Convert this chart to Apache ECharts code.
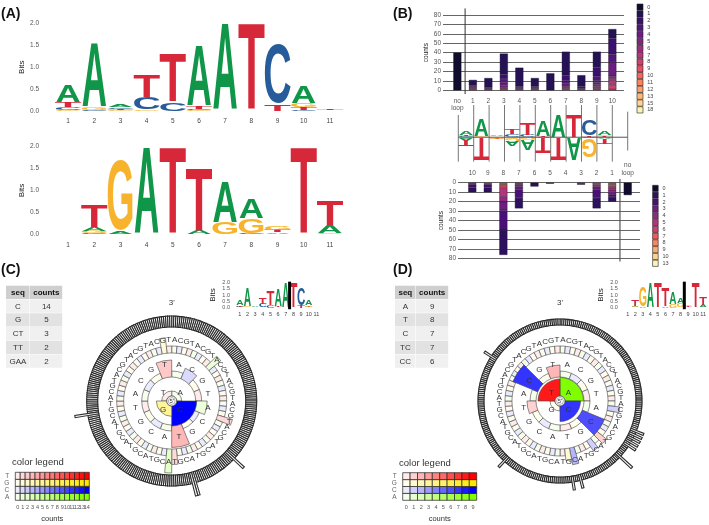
<!DOCTYPE html>
<html><head><meta charset="utf-8">
<style>html,body{margin:0;padding:0;background:#fff}#c{width:709px;height:525px}</style>
<script src="https://cdn.jsdelivr.net/npm/echarts@6/dist/echarts.min.js"></script>
</head><body><div id="c"></div>
<script>
// ---------- data ----------
const logoPositions = ['1','2','3','4','5','6','7','8','9','10','11'];
const logoTop = [
 [['G',.03],['C',.05],['T',.12],['A',.4]],
 [['T',.01],['C',.02],['G',.06],['A',1.5]],
 [['G',.02],['T',.03],['C',.03],['A',.05]],
 [['A',.01],['G',.02],['C',.27],['T',.5]],
 [['C',.2],['T',1.12]],
 [['G',.02],['C',.03],['T',.05],['A',1.4]],
 [['A',2.0]],
 [['T',2.0]],
 [['T',.15],['C',1.42]],
 [['C',.03],['T',.06],['G',.08],['A',.4]],
 [['G',.01],['C',.01],['A',.01],['T',.02]]
];
const logoBottom = [
 [],
 [['C',.02],['G',.05],['A',.08],['T',.5]],
 [['A',.06],['G',1.67]],
 [['A',2.0]],
 [['T',2.0]],
 [['A',.08],['T',1.45]],
 [['G',.27],['A',.95]],
 [['C',.02],['G',.35],['A',.45]],
 [['A',.04],['T',.06],['G',.1]],
 [['T',2.0]],
 [['C',.01],['G',.02],['A',.18],['T',.57]]
];

const topCats = ['no\nloop','1','2','3','4','5','6','7','8','9','10'];
const topLevels = ['0','1','2','3','4','5','6','7','8','9','10','11','12','13','15','18'];
const topStacks = [
 [40],
 [0,6,0,1,0,1,1,1,0,1],
 [0,10,0,1,0,1,0,1],
 [0,22,5,4,3,2,1,0,1,1],
 [0,20,0,1,1,0,1,1],
 [0,9,0,1,0,1,0,1,0,1],
 [0,18],
 [0,25,6,3,3,0,1,1,0,1,1],
 [0,12,0,2,0,1,1],
 [0,17,9,5,2,2,2,2,1,1],
 [0,10,17,8,15,2,2,5,5,1]
];
const topColors = ['#0f0c2e','#251255','#3b0f70','#541480','#6c1d81','#842681','#9d2f7f','#b73779','#d0416f','#e55064','#f4695c','#fa8460','#fd9f6c','#feb97a','#fed395','#fcf3b0'];

const lowCats = ['10','9','8','7','6','5','4','3','2','1','no\nloop'];
const lowLevels = ['0','1','2','3','4','5','6','7','8','9','10','13'];
const lowStacks = [
 [0,5,3,1,0,1],
 [0,5,3,0,1,0,0,0,1],
 [0,26,21,9,5,10,0,2,1,1,1],
 [0,11,9,3,2,1,1],
 [0,4],
 [0,1],
 [],
 [0,1,0,0,1],
 [0,11,9,3,0,2,2],
 [0,5,3,3,2,2,1,2,1,1],
 [13]
];
const lowColors = ['#0f0c2e','#2c115f','#4a1079','#6e1d81','#8f2a80','#b1357a','#cf4070','#ee5b5e','#fb8560','#feaa6f','#fdd18f','#fcf4b6'];

// connector lines of the mid logo: [x, top, bottom] in axis units
const connectors = [[0,2.0,-2.2],[1,2.9,-2.2],[2,2.9,-2.2],[3,2.9,-2.2],[4,2.9,-2.2],[5,2.9,-2.2],[6,2.9,-2.2],[7,2.9,-2.2],[8,2.9,-2.2],[9,2.9,-2.2],[10,2.9,-2.2],[11,2.3,-1.2]];

const baseLetters = ['A','C','G','T'];
// panel C
const seqC = ['C','G','CT','TT','GAA'];
const countC = [14,5,3,2,2];
const ringC1 = [0,14,5,0];
const ringC2 = [0,1,0,0, 1,0,0,3, 0,0,0,0, 0,0,0,2];
const ringC3 = [[8,1],[19,1],[31,1],[32,2],[62,1]];
const ringC4 = [[94,1],[116,1],[117,1],[185,1]];
const legendCountsC = ['0','1','2','3','4','5','6','7','8','9','10','11','12','13','14'];
// panel D
const seqD = ['A','T','C','TC','CC'];
const countD = [9,8,7,7,6];
const ringD1 = [9,7,0,8];
const ringD2 = [0,0,0,0, 0,6,0,0, 0,0,0,1, 0,7,0,2];
const ringD3 = [[17,1],[23,1],[25,1],[29,2],[30,1]];
const ringD4 = [[79,1],[81,1],[83,1],[85,1],[87,1],[94,2],[117,1],[121,1],[158,1],[215,1]];
const legendCountsD = ['0','1','2','3','4','5','6','7','8','9'];
const legendRows = ['A','C','G','T'];
const headers = ['seq','counts'];

// ---------- helpers ----------
const logoColor = {A:'#109648',C:'#255c99',G:'#f7b32b',T:'#d62839'};
const inkW = {A:.72,C:.64,G:.69,T:.57}, capH = {A:.716,C:.745,G:.745,T:.716};
const pure = {A:[128,255,0],C:[0,0,255],G:[255,230,0],T:[255,0,0]};
function tint(l,f){const p=pure[l],t=.08+.92*f;return 'rgb('+p.map(v=>Math.round(255+(v-255)*t)).join(',')+')';}

const grids=[],xAxes=[],yAxes=[],series=[];
const TXT='"Liberation Sans"';
const GLYPH_SHIFT=6.9; // font units between the reported middle and the middle of the capitals
function grid(left,top,w,h,x,y){
  const g=grids.length; grids.push({left,top,width:w,height:h,containLabel:false});
  xAxes.push(Object.assign({gridIndex:g},x)); yAxes.push(Object.assign({gridIndex:g},y)); return g;
}
const hiddenVal=(min,max)=>({type:'value',min,max,show:false,splitLine:{show:false}});
function logoRender(hfill){
  return function(params,api){
    const x=api.value(0),y0=api.value(1),y1=api.value(2),l=baseLetters[api.value(3)],flip=api.value(4);
    const a=api.coord([x,y0]),b=api.coord([x,y1]);
    const w=api.size([1,0])[0]*hfill,h=Math.abs(b[1]-a[1]);
    const sy=h/(capH[l]*100),sx=w/(inkW[l]*100);
    const cy=(a[1]+b[1])/2+(flip?-1:1)*GLYPH_SHIFT*sy;
    return {type:'text',x:a[0],y:cy,scaleX:sx,scaleY:sy,rotation:flip?Math.PI:0,silent:true,
      style:{text:l,font:'bold 100px '+TXT,fill:logoColor[l],align:'center',verticalAlign:'middle',textAlign:'center',textVerticalAlign:'middle'}};
  };
}
function logoItems(logo,xf,sign,flip){
  const out=[];
  logo.forEach((st,i)=>{let y=0;st.forEach(([l,v])=>{out.push([xf(i),y*sign,(y+v)*sign,baseLetters.indexOf(l),flip]);y+=v;});});
  return out;
}
function logo(logoData,left,top,w,h,fs,xMargin,yMargin,nameGap,nameFs){
  const g=grid(left,top,w,h,
   {type:'category',data:logoPositions,axisLine:{show:false},axisTick:{show:false},
    axisLabel:{interval:0,fontSize:fs,color:'#444',margin:xMargin,fontFamily:TXT}},
   {type:'value',min:0,max:2,interval:.5,splitLine:{show:false},axisLine:{show:false},axisTick:{show:false},
    axisLabel:{fontSize:fs,color:'#555',margin:yMargin,fontFamily:TXT,formatter:v=>v.toFixed(1)},
    name:'Bits',nameLocation:'middle',nameGap:nameGap,nameTextStyle:{fontSize:nameFs,color:'#222',fontFamily:TXT}});
  series.push({type:'custom',xAxisIndex:g,yAxisIndex:g,renderItem:logoRender(.96),data:logoItems(logoData,i=>i,1,0),animation:false,silent:true});
  return g;
}
function stackedBars(cats,stacks,colors,g,stackName){
  for(let k=colors.length-1;k>=0;k--){
    series.push({type:'bar',stack:stackName,xAxisIndex:g,yAxisIndex:g,barWidth:8,silent:true,
      itemStyle:{color:colors[k],borderColor:'#15101f',borderWidth:.4},
      data:stacks.map(s=>s[k]?s[k]:'-'),animation:false});
  }
}
function swatchLegend(labels,colors,left,top,w,h){
  const g=grid(left,top,w,h,hiddenVal(0,1),
   {type:'category',inverse:true,position:'right',data:labels,axisLine:{show:false},axisTick:{show:false},
    axisLabel:{interval:0,fontSize:5.5,color:'#444',margin:4,fontFamily:TXT}});
  series.push({type:'bar',xAxisIndex:g,yAxisIndex:g,barWidth:'100%',silent:true,animation:false,
    data:colors.map(c=>({value:1,itemStyle:{color:c,borderColor:'#222',borderWidth:.6}}))});
}
function table(left,top,w,h,split,seq,cnt){
  const rows=[headers[0]].concat(seq);
  const g=grid(left,top,w,h,hiddenVal(0,1),{type:'category',inverse:true,show:false,data:rows});
  const data=[];
  rows.forEach((_,r)=>{data.push([0,r,r===0?headers[0]:seq[r-1]]);data.push([1,r,r===0?headers[1]:cnt[r-1]]);});
  series.push({type:'custom',xAxisIndex:g,yAxisIndex:g,animation:false,silent:true,
    encode:{x:0,y:1},data:data.map(d=>[d[0],d[1]]),
    renderItem(p,api){
      const c=api.value(0),r=api.value(1),t=data[p.dataIndex][2];
      const h0=api.size([0,1])[1],L=api.coord([0,r]),x0=L[0],W=w;
      const cx0=x0+(c?split*W:0),cw=(c?(1-split):split)*W;
      const fill=r===0?'#cfcfcf':(r%2?'#f0f0f0':'#e2e2e2');
      return {type:'group',children:[
        {type:'rect',shape:{x:cx0,y:L[1]-h0/2,width:cw-.5,height:h0-.5},style:{fill}},
        {type:'text',x:cx0+cw/2,y:L[1],style:{text:String(t),font:(r===0?'bold ':'')+'8px '+TXT,fill:r===0?'#111':'#333',align:'center',verticalAlign:'middle',textAlign:'center',textVerticalAlign:'middle'}}]};
    }});
}
function colorLegend(labels,left,top,w,h){
  const g=grid(left,top,w,h,
    {type:'category',data:labels,axisLine:{show:false},axisTick:{show:false},
     axisLabel:{interval:0,fontSize:5.5,color:'#555',margin:4,fontFamily:TXT},
     name:'counts',nameLocation:'middle',nameGap:15,nameTextStyle:{fontSize:7.5,color:'#333',fontFamily:TXT}},
    {type:'category',data:legendRows,axisLine:{show:false},axisTick:{show:false},
     axisLabel:{interval:0,fontSize:6.5,color:'#666',margin:6,fontFamily:TXT}});
  const data=[];
  labels.forEach((_,c)=>legendRows.forEach((_,r)=>data.push([c,r])));
  series.push({type:'custom',xAxisIndex:g,yAxisIndex:g,animation:false,silent:true,data,
    renderItem(p,api){
      const c=api.value(0),r=api.value(1),q=api.coord([c,r]),s=api.size([1,1]);
      return {type:'rect',shape:{x:q[0]-s[0]/2,y:q[1]-s[1]/2,width:s[0],height:s[1]},
        style:{fill:tint(legendRows[r],c/(labels.length-1)),stroke:'#222',lineWidth:.7}};
    }});
}
function ringSeries(pi,counts,ringOpts){
  const n=counts.length,step=360/n,data=counts.map((c,i)=>[c,i]);
  const order=data.slice().sort((a,b)=>(a[0]?1:0)-(b[0]?1:0));
  series.push({type:'custom',coordinateSystem:'polar',polarIndex:pi,animation:false,silent:true,data:order,
    renderItem(p,api){
      const c=api.value(0),i=api.value(1),o=api.coord([0,0]);
      const rad=v=>o[1]-api.coord([v,0])[1];
      const a0=(i*step-90)*Math.PI/180,a1=((i+1)*step-90)*Math.PI/180;
      const l=baseLetters[i%4];
      return {type:'sector',shape:{cx:o[0],cy:o[1],r0:rad(ringOpts.r0),r:rad(ringOpts.out(c)),startAngle:a0,endAngle:a1,clockwise:true},
        style:{fill:ringOpts.fill?ringOpts.fill:tint(l,c/ringOpts.max),stroke:ringOpts.stroke||'#444',lineWidth:ringOpts.lw||.6}};
    }});
}
function dense(n,sparse){const a=new Array(n).fill(0);sparse.forEach(([i,c])=>a[i]=c);return a;}
function circle(pi,c1,c2,c3,c4,max,opt){
  ringSeries(pi,dense(256,c4),{r0:opt.r4[0],out:c=>opt.r4[1]+opt.k4*c,max,lw:1.05,stroke:'#2a2a2a',fill:'#f4f4f4'});
  ringSeries(pi,dense(64,c3),{r0:48,out:c=>55+opt.k3*c,max});
  ringSeries(pi,c2,{r0:24,out:c=>30+opt.k2*c,max});
  ringSeries(pi,c1,{r0:5,out:c=>10+opt.k1*c,max});
  const labels=[];
  c1.forEach((_,i)=>labels.push([12,(i+.5)*90,baseLetters[i]]));
  c2.forEach((_,i)=>labels.push([37,(i+.5)*22.5,baseLetters[i%4]]));
  for(let i=0;i<64;i++)labels.push([61,(i+.5)*5.625,baseLetters[i%4]]);
  labels.push([98,0,"3'"]);labels.push([0,0,"5'"]);
  series.push({type:'custom',coordinateSystem:'polar',polarIndex:pi,animation:false,silent:true,
    data:labels.map(d=>[d[0],d[1]]),
    renderItem(p,api){
      const r=api.value(0),a=api.value(1),q=api.coord([r,a]),t=labels[p.dataIndex][2];
      const txt={type:'text',x:q[0],y:q[1],style:{text:t,font:(r===0?'6':'8')+'px '+TXT,fill:'#333',align:'center',verticalAlign:'middle',textAlign:'center',textVerticalAlign:'middle'}};
      if(r===0){
        return {type:'group',children:[
          {type:'circle',shape:{cx:q[0],cy:q[1],r:5},style:{fill:'#fff',stroke:'#444',lineWidth:.7}},
          {type:'circle',shape:{cx:q[0],cy:q[1],r:3.4},style:{fill:'#fff',stroke:'#666',lineWidth:.5}},txt]};
      }
      return txt;
    }});
}

// ---------- panel A ----------
logo(logoTop,55,23.5,288,87.5,6.5,7,16,28,8);
logo(logoBottom,55,146.7,288,87.6,6.5,7,16,28,8);

// ---------- panel B top ----------
const gTopLines=grid(443,15,181,75.3,hiddenVal(0,1),
  {type:'value',min:0,max:80,interval:10,axisLine:{show:false},axisTick:{show:false},
   splitLine:{show:true,lineStyle:{color:'#666',width:1}},
   axisLabel:{fontSize:6.5,color:'#555',margin:2,fontFamily:TXT},
   name:'counts',nameLocation:'middle',nameGap:13,nameTextStyle:{fontSize:6.5,color:'#222',fontFamily:TXT}});
const gTop=grid(449.6,15,170.5,75.3,
  {type:'category',data:topCats,axisLine:{show:false},axisTick:{show:false},
   axisLabel:{interval:0,fontSize:6.5,lineHeight:7.5,color:'#555',margin:7,verticalAlign:'top',fontFamily:TXT}},
  {type:'value',min:0,max:80,show:false,splitLine:{show:false}});
stackedBars(topCats,topStacks,topColors,gTop,'top');
series.push({type:'custom',xAxisIndex:gTop,yAxisIndex:gTop,animation:false,silent:true,data:[[0,-4,87]],
  renderItem(p,api){const a=api.coord([api.value(0),api.value(1)]),b=api.coord([api.value(0),api.value(2)]),s=api.size([1,0])[0]/2;
    return {type:'line',shape:{x1:a[0]+s,y1:a[1],x2:a[0]+s,y2:b[1]},style:{stroke:'#333',lineWidth:1}};}});
swatchLegend(topLevels,topColors,636.7,3.7,6.6,109.6);

// ---------- panel B mid logo ----------
const gMid=grid(458.3,105,169.4,60,hiddenVal(0,11),
  {type:'value',min:-2.5,max:2.9,show:false,splitLine:{show:false}});
series.push({type:'custom',xAxisIndex:gMid,yAxisIndex:gMid,animation:false,silent:true,data:connectors,
  renderItem(p,api){const a=api.coord([api.value(0),api.value(1)]),b=api.coord([api.value(0),api.value(2)]);
    return {type:'line',shape:{x1:a[0],y1:a[1],x2:b[0],y2:b[1]},style:{stroke:'#777',lineWidth:1}};}});
series.push({type:'custom',xAxisIndex:gMid,yAxisIndex:gMid,renderItem:logoRender(.95),animation:false,silent:true,
  data:logoItems(logoTop,i=>i+.5,1,0).concat(logoItems(logoBottom,i=>10.5-i,-1,1))});
series.push({type:'custom',xAxisIndex:gMid,yAxisIndex:gMid,animation:false,silent:true,data:[[0,11,0]],
  renderItem(p,api){const a=api.coord([api.value(0),api.value(2)]),b=api.coord([api.value(1),api.value(2)]);
    return {type:'line',shape:{x1:a[0],y1:a[1],x2:b[0],y2:b[1]},style:{stroke:'#555',lineWidth:1}};}});

// ---------- panel B lower ----------
const gLowLines=grid(458,182.7,182,76,hiddenVal(0,1),
  {type:'value',min:0,max:80,interval:10,inverse:true,axisLine:{show:false},axisTick:{show:false},
   splitLine:{show:true,lineStyle:{color:'#666',width:1}},
   axisLabel:{fontSize:6.5,color:'#555',margin:2,fontFamily:TXT},
   name:'counts',nameLocation:'middle',nameGap:13,nameTextStyle:{fontSize:6.5,color:'#222',fontFamily:TXT}});
const gLow=grid(464.5,182.7,171,76,
  {type:'category',position:'top',data:lowCats,axisLine:{show:false},axisTick:{show:false},
   axisLabel:{interval:0,fontSize:6.5,lineHeight:7.5,color:'#555',margin:6,verticalAlign:'bottom',fontFamily:TXT}},
  {type:'value',min:0,max:80,inverse:true,show:false,splitLine:{show:false}});
stackedBars(lowCats,lowStacks,lowColors,gLow,'low');
series.push({type:'custom',xAxisIndex:gLow,yAxisIndex:gLow,animation:false,silent:true,data:[[9,-4,83]],
  renderItem(p,api){const a=api.coord([api.value(0),api.value(1)]),b=api.coord([api.value(0),api.value(2)]),s=api.size([1,0])[0]/2;
    return {type:'line',shape:{x1:a[0]+s,y1:a[1],x2:a[0]+s,y2:b[1]},style:{stroke:'#555',lineWidth:1.2}};}});
swatchLegend(lowLevels,lowColors,652.3,185,6.2,81.7);

// ---------- panels C and D ----------
table(6,285.7,56.7,82.6,24/56.7,seqC,countC);
table(395,285.7,53.7,82.6,20.7/53.7,seqD,countD);
colorLegend(legendCountsC,15.3,472.3,74,28);
colorLegend(legendCountsD,402.7,472.7,74,27.6);
circle(0,ringC1,ringC2,ringC3,ringC4,14,{r4:[74,85],k4:13,k3:8.5,k2:5.5,k1:1.07});
circle(1,ringD1,ringD2,ringD3,ringD4,9,{r4:[76,82],k4:8,k3:5,k2:3,k1:1.5});
function miniLogo(data,left,band){
  const g=logo(data,left,282.3,84.2,25.4,5.5,4,6,19,8);
  series.push({type:'custom',xAxisIndex:g,yAxisIndex:g,animation:false,silent:true,data:[[band,-.12,2.05]],
    renderItem(p,api){const a=api.coord([api.value(0),api.value(1)]),b=api.coord([api.value(0),api.value(2)]),s=api.size([1,0])[0]/2;
      return {type:'rect',shape:{x:a[0]+s-1.5,y:b[1],width:3,height:a[1]-b[1]},style:{fill:'#000'}};}});
}
miniLogo(logoTop,236,6);
miniLogo(logoBottom,623.9,7);

const panelTitle=(text,left,top)=>({text,left,top,padding:0,textStyle:{fontSize:14,fontWeight:'bold',color:'#111',fontFamily:TXT}});
const legendTitle=(left,top)=>({text:'color legend',left,top,padding:0,textStyle:{fontSize:9.5,fontWeight:'normal',color:'#333',fontFamily:TXT}});

const chart=echarts.init(document.getElementById('c'),null,{renderer:'canvas'});
chart.setOption({
  animation:false,backgroundColor:'#fff',
  title:[panelTitle('(A)',1,7),panelTitle('(B)',393,7),panelTitle('(C)',1,263),panelTitle('(D)',393,263),legendTitle(12,457),legendTitle(399,458)],
  grid:grids,xAxis:xAxes,yAxis:yAxes,
  polar:[{center:[171.7,401],radius:100},{center:[560,401],radius:100}],
  radiusAxis:[{polarIndex:0,min:0,max:100,show:false},{polarIndex:1,min:0,max:100,show:false}],
  angleAxis:[{polarIndex:0,min:0,max:360,startAngle:90,show:false},{polarIndex:1,min:0,max:360,startAngle:90,show:false}],
  series
});
</script></body></html>
